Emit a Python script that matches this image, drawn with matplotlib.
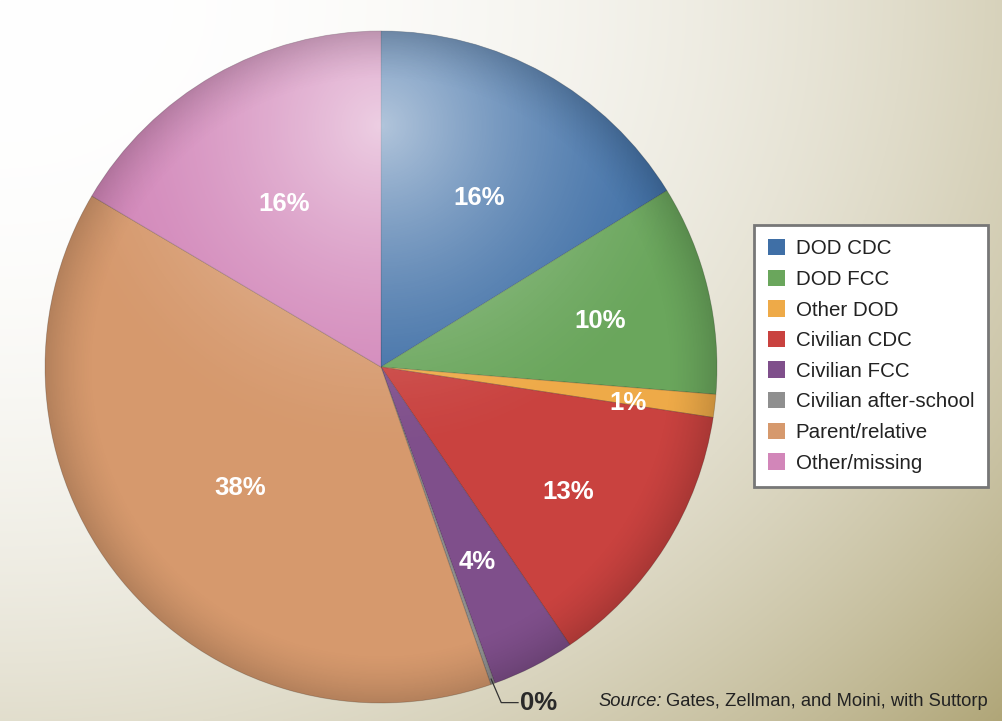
import numpy as np
import matplotlib
matplotlib.use("Agg")
import matplotlib.pyplot as plt
from matplotlib.patches import Circle

plt.rcParams["font.family"] = ["Liberation Sans", "DejaVu Sans"]

# Data (percent of children, slice order clockwise from 12 o'clock)
categories = ["DOD CDC", "DOD FCC", "Other DOD", "Civilian CDC", "Civilian FCC",
              "Civilian after-school", "Parent/relative", "Other/missing"]
shares = [16.2, 10.1, 1.1, 13.1, 4.0, 0.2, 38.8, 16.5]
pct_labels = ["16%", "10%", "1%", "13%", "4%", "0%", "38%", "16%"]
colors = ["#3f6fa6", "#6aa65c", "#eeaa48", "#c9423f", "#7f4f8b",
          "#8f8f8f", "#d6996d", "#d286b9"]
source_note = "Gates, Zellman, and Moini, with Suttorp"

W, H = 1003, 721
fig = plt.figure(figsize=(W / 100, H / 100), dpi=100)

# background gradient (white top-left -> olive tan bottom-right)
bg = fig.add_axes([0, 0, 1, 1])
bg.set_axis_off()
xx, yy = np.meshgrid(np.linspace(0, 1, 400), np.linspace(0, 1, 300))
t = np.clip(np.hypot(xx * 0.75, yy * 0.66), 0, 1) ** 2.4
c0 = np.array([1.0, 1.0, 1.0])
c1 = np.array([0.69, 0.65, 0.47])
img = c0[None, None, :] * (1 - t[..., None]) + c1[None, None, :] * t[..., None]
bg.imshow(img, extent=[0, 1, 0, 1], aspect="auto", origin="upper")
bg.set_xlim(0, 1)
bg.set_ylim(0, 1)

# pie axes: centre (381, 367) px, radius 336 px
cx, cy, r = 381, 367, 336
ax = fig.add_axes([(cx - r) / W, (H - cy - r) / H, 2 * r / W, 2 * r / H])
wedges, _ = ax.pie(shares, colors=colors, startangle=90, counterclock=False,
                   radius=1, wedgeprops=dict(linewidth=0.6, edgecolor=(0, 0, 0, 0.2)))
ax.set_xlim(-1, 1)
ax.set_ylim(-1, 1)
ax.set_aspect("equal")
ax.set_axis_off()

# lighting overlay
gx, gy = np.meshgrid(np.linspace(-1, 1, 500), np.linspace(1, -1, 500))
d = np.hypot(gx - 0.0, gy - 0.72)
hl = np.zeros((500, 500, 4))
hl[..., :3] = 1.0
hl[..., 3] = 0.6 * np.clip(1 - d / 1.0, 0, 1) ** 1.6
im1 = ax.imshow(hl, extent=[-1, 1, -1, 1], zorder=3)
rr = np.hypot(gx, gy)
sh = np.zeros((500, 500, 4))
sh[..., 3] = 0.16 * np.clip((rr - 0.85) / 0.15, 0, 1) ** 1.5
im2 = ax.imshow(sh, extent=[-1, 1, -1, 1], zorder=3)
clip = Circle((0, 0), 1, transform=ax.transData)
im1.set_clip_path(clip)
im2.set_clip_path(clip)
ax.set_xlim(-1, 1)
ax.set_ylim(-1, 1)

# percentage labels (radial distance per slice)
dist = {0: 0.6, 1: 0.67, 2: 0.74, 3: 0.66, 4: 0.63, 6: 0.54, 7: 0.58}
angle = 90.0
for i, (s, lab) in enumerate(zip(shares, pct_labels)):
    span = s / sum(shares) * 360
    mid = np.deg2rad(angle - span / 2)
    angle -= span
    if i == 5:
        x0, y0 = 0.985 * np.cos(mid), 0.985 * np.sin(mid)
        ax.plot([x0, x0 + 0.03, x0 + 0.08], [y0, y0 - 0.07, y0 - 0.07],
                color="#333333", lw=0.9, zorder=5, clip_on=False)
        ax.text(x0 + 0.085, y0 - 0.07, lab, ha="left", va="center", fontsize=18.5,
                fontweight="bold", color="#2a2a2a", zorder=5, clip_on=False)
        continue
    rd = dist.get(i, 0.62)
    ax.text(rd * np.cos(mid), rd * np.sin(mid) - 0.02, lab, ha="center", va="center",
            fontsize=18.5, fontweight="bold", color="white", zorder=5)

# legend
leg = fig.legend(wedges, categories, loc="upper left",
                 bbox_to_anchor=(754 / W, 1 - 225 / H), fontsize=14.8,
                 frameon=True, fancybox=False, handlelength=0.85, handleheight=0.85,
                 handletextpad=0.5, labelspacing=0.55, borderpad=0.68,
                 borderaxespad=0, framealpha=1)
leg.get_frame().set_edgecolor("#777777")
leg.get_frame().set_linewidth(2)
for txt in leg.get_texts():
    txt.set_color("#222222")
for h in leg.legend_handles:
    h.set_edgecolor("none")

src = fig.text(598 / W, 1 - 701 / H, "Source:", fontsize=13.2, style="italic",
               color="#222222", va="center", ha="left")
fig.canvas.draw()
bb = src.get_window_extent()
fig.text((bb.x1 + 5) / W, 1 - 701 / H, source_note, fontsize=13.2,
         color="#222222", va="center", ha="left")

fig.savefig("out.png", dpi=100)
